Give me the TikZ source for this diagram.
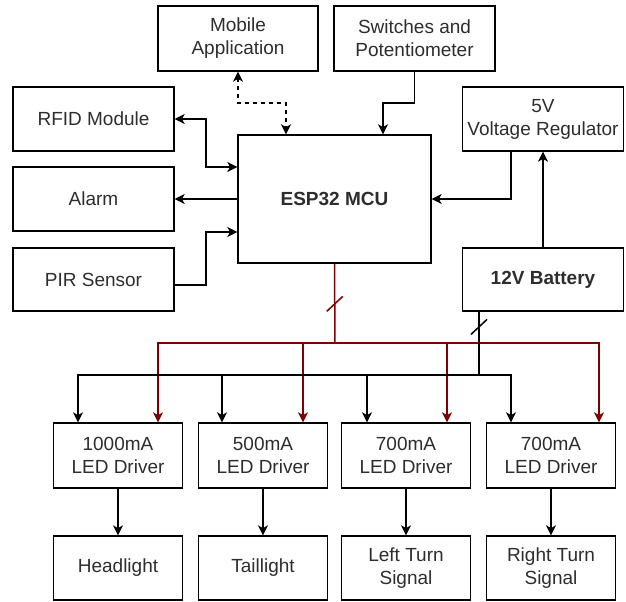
\documentclass[tikz,border=0pt]{standalone}
\usepackage{fontspec}
\setmainfont{Liberation Sans}
\usetikzlibrary{arrows.meta,calc}
\definecolor{wire}{RGB}{128,0,0}
\definecolor{txt}{RGB}{45,45,45}
\begin{document}
\begin{tikzpicture}[x=0.5pt,y=-0.5pt,
  box/.style={draw=black, line width=0.7pt, rectangle, align=center, text=txt,
    font=\fontsize{9.5}{11.5}\selectfont, inner sep=0pt},
  wbox/.style={box, minimum width=80.5pt, minimum height=32pt},
  dbox/.style={box, minimum width=64.5pt, minimum height=32.5pt},
  conn/.style={draw=black, line width=0.75pt},
  tip/.tip={Stealth[length=5pt,width=5pt,inset=1.4pt]},
  arr/.style={conn, -tip},
  darr/.style={conn, tip-tip},
  dasharr/.style={conn, tip-tip, dash pattern=on 2pt off 2pt},
  redline/.style={draw=wire, line width=0.75pt},
  redarr/.style={redline, -tip},
]
\useasboundingbox (0,0) rectangle (626,601);

% top row
\node[box, minimum width=80pt, minimum height=32.5pt] (mob) at (238,38.5) {Mobile\\Application};
\node[box, minimum width=80.5pt, minimum height=32.5pt] (sw) at (414.5,38.5) {Switches and\\Potentiometer};

% left column
\node[wbox] (rfid) at (93.5,119) {RFID Module};
\node[wbox] (alarm) at (93.5,199) {Alarm};
\node[wbox, minimum height=31.5pt] (pir) at (93.5,279.5) {PIR Sensor};

% MCU
\node[box, minimum width=96.5pt, minimum height=64pt, font=\fontsize{9.5}{11.5}\selectfont\bfseries] (esp) at (334.5,199) {ESP32 MCU};

% power
\node[wbox] (reg) at (543,119) {5V\\Voltage Regulator};
\node[wbox, minimum height=31.5pt, font=\fontsize{9.5}{11.5}\selectfont\bfseries] (bat) at (543,279.5) {12V Battery};

% drivers
\node[dbox] (d1) at (118,455.5) {1000mA\\LED Driver};
\node[dbox] (d2) at (263,455.5) {500mA\\LED Driver};
\node[dbox] (d3) at (406,455.5) {700mA\\LED Driver};
\node[dbox] (d4) at (551,455.5) {700mA\\LED Driver};

% loads
\node[dbox, minimum height=32pt] (b1) at (118,568) {Headlight};
\node[dbox, minimum height=32pt] (b2) at (263,568) {Taillight};
\node[dbox, minimum height=32pt] (b3) at (406,568) {Left Turn\\Signal};
\node[dbox, minimum height=32pt] (b4) at (551,568) {Right Turn\\Signal};

% bend points
\coordinate (mobmid) at (286,103);
\coordinate (swmid) at (383,103);
\coordinate (rjog) at (206,167);
\coordinate (pjog) at (206,232);
\coordinate (rbus) at (335,343);
\coordinate (bbus) at (479,375);

% top connectors
\draw[dasharr] (mob.south) |- (mobmid) -- (mobmid |- esp.north);
\draw[arr] (sw.south) |- (swmid) -- (swmid |- esp.north);

% left connectors
\draw[darr] (rfid.east) -| (rjog) -- (rjog -| esp.west);
\draw[arr] (esp.west) -- (alarm.east);
\draw[arr] ([yshift=-2.75pt]pir.east) -| (pjog) -- (pjog -| esp.west);

% power connectors
\draw[arr] ([xshift=-16pt]reg.south) |- (esp.east);
\draw[arr] (bat.north) -- (reg.south);

% red control bus
\draw[redline] (esp.south) -- (rbus);
\draw[redline] ($(esp.south)!0.5!(rbus)$) ++(-8,8) -- ++(16,-15);
\draw[redarr] (rbus) -| ([xshift=20pt]d1.north);
\draw[redarr] (rbus) -| ([xshift=20pt]d2.north);
\draw[redarr] (rbus) -| ([xshift=20.5pt]d3.north);
\draw[redarr] (rbus) -| ([xshift=24pt]d4.north);

% black power bus
\coordinate (batout) at ([xshift=-32pt]bat.south);
\draw[conn] (batout) -- (bbus);
\draw[conn] ($(batout)!0.24!(bbus)$) ++(-8,7.5) -- ++(16,-15);
\draw[arr] (bbus) -| ([xshift=-20pt]d1.north);
\draw[arr] (bbus) -| ([xshift=-20.5pt]d2.north);
\draw[arr] (bbus) -| ([xshift=-19.5pt]d3.north);
\draw[arr] (bbus) -| ([xshift=-20pt]d4.north);

% drivers to loads
\draw[arr] (d1.south) -- (b1.north);
\draw[arr] (d2.south) -- (b2.north);
\draw[arr] (d3.south) -- (b3.north);
\draw[arr] (d4.south) -- (b4.north);
\end{tikzpicture}
\end{document}
